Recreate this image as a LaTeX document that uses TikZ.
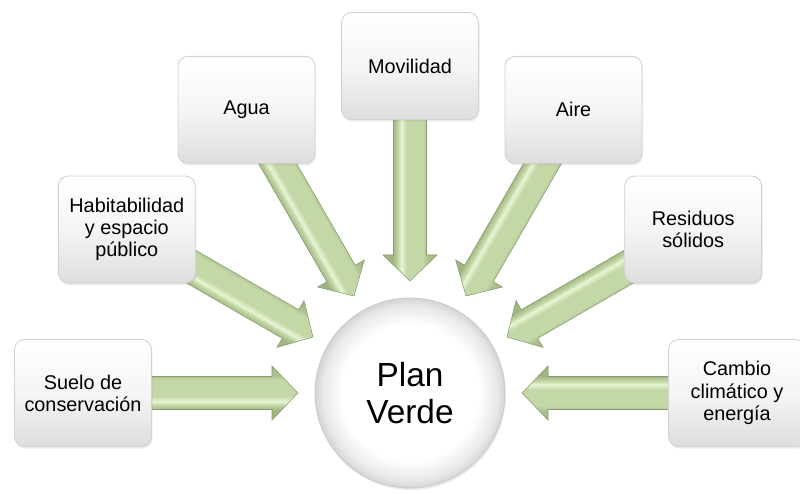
\documentclass[tikz,border=0pt]{standalone}
\usepackage{fontspec}
\setmainfont{Liberation Sans}
\usetikzlibrary{shadows}
\definecolor{arrowdark}{HTML}{A0B581}
\definecolor{arrowmid}{HTML}{C4D8A7}
\definecolor{arrowlight}{HTML}{E8F4D4}
% across-the-width shading of the block arrows (shaft edges dark, light stripe)
\pgfdeclareverticalshading{arrowshade}{100bp}{%
  color(0bp)=(arrowdark); color(25bp)=(arrowdark);
  color(34bp)=(arrowdark!60!arrowmid); color(38bp)=(arrowmid);
  color(53bp)=(arrowmid); color(58bp)=(arrowlight); color(61bp)=(arrowmid);
  color(66bp)=(arrowdark); color(75bp)=(arrowdark); color(100bp)=(arrowdark)}
% hub: white face that greys only near its rim
\pgfdeclareradialshading{hubshade}{\pgfpoint{0bp}{0bp}}{%
  color(0bp)=(white); color(18bp)=(white); color(23bp)=(black!9);
  color(25bp)=(black!17); color(50bp)=(black!17)}
\tikzset{
  topic/.style={rectangle, rounded corners=0.2cm, minimum width=2.74cm,
    minimum height=2.14cm, top color=white, bottom color=black!13,
    middle color=white!96!black, draw=black!18, line width=0.5pt,
    align=center, inner sep=2pt, font=\fontsize{11.3}{12.6}\selectfont,
    drop shadow={shadow xshift=0.6pt, shadow yshift=-1.2pt, opacity=0.15}},
  hub/.style={circle, minimum size=3.8cm, shading=hubshade,
    draw=black!20, line width=0.5pt, align=center,
    font=\fontsize{19}{21}\selectfont,
    drop shadow={shadow xshift=0.6pt, shadow yshift=-1.2pt, opacity=0.15}},
  blockarrow/.style={shading=arrowshade, draw=arrowdark!85!black, line width=0.3pt}
}
\begin{document}
\begin{tikzpicture}[x=0.02cm, y=0.02cm]
\useasboundingbox (-410,-100) rectangle (390,393);
\clip (-410,-100) rectangle (390,393);
% block arrows pointing from each topic to the hub
\foreach \a in {0,30,...,180}{
  \begin{scope}[transform canvas={rotate=\a}]
    \shade[blockarrow] (112,0) -- (138,27) -- (138,16.5) -- (275,16.5)
      -- (275,-16.5) -- (138,-16.5) -- (138,-27) -- cycle;
  \end{scope}
}
% topics around the hub
\node[topic] (cambio) at (0:327)   {Cambio\\climático y\\energía};
\node[topic] (resid)  at (30:327)  {Residuos\\sólidos};
\node[topic] (aire)   at (60:327)  {Aire};
\node[topic] (movil)  at (90:327)  {Movilidad};
\node[topic] (agua)   at (120:327) {Agua};
\node[topic] (habit)  at (150:327) {Habitabilidad\\y espacio\\público};
\node[topic] (suelo)  at (180:327) {Suelo de\\conservación};
% hub
\node[hub] (plan) at (0,0) {Plan\\Verde};
\end{tikzpicture}
\end{document}
